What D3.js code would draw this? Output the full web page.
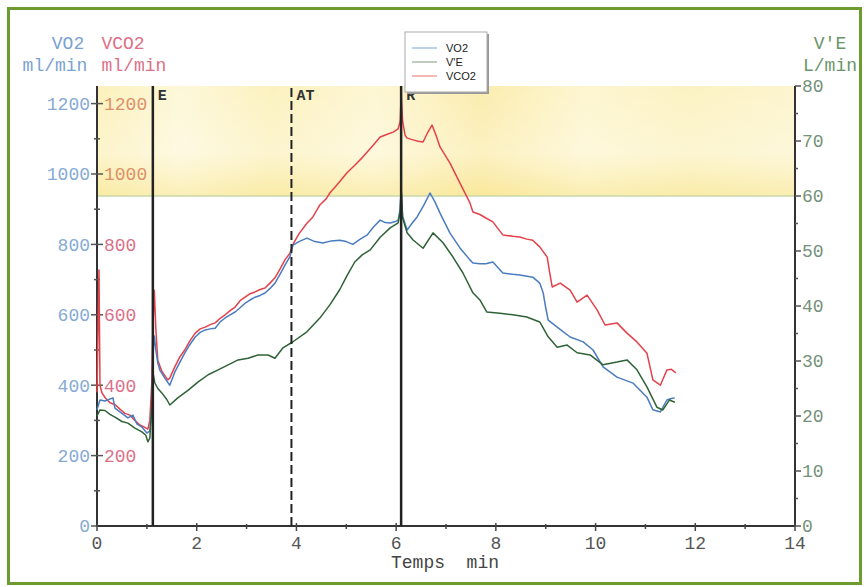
<!DOCTYPE html>
<html>
<head>
<meta charset="utf-8">
<title>VO2 VCO2 V'E</title>
<script src="https://cdn.jsdelivr.net/npm/d3@7"></script>
<style>
body { margin:0; background:#fff; }
svg text { font-family: "Liberation Mono", "DejaVu Sans Mono", monospace; }
</style>
</head>
<body>
<svg width="868" height="587"></svg>
<script>
// temps (min) , valeur
var vco2 = [[0,380],[0.02,560],[0.04,727],[0.06,400],[0.10,378],[0.16,365],[0.26,350],[0.36,345],[0.46,332],[0.56,320],[0.66,315],[0.76,300],[0.86,287],[0.96,280],[1.02,275],[1.06,300],[1.10,410],[1.12,560],[1.15,670],[1.18,560],[1.22,470],[1.30,440],[1.42,415],[1.46,420],[1.56,452],[1.66,480],[1.76,500],[1.86,525],[1.97,548],[2.07,560],[2.17,565],[2.27,572],[2.37,577],[2.47,590],[2.57,600],[2.67,612],[2.77,622],[2.87,640],[2.97,650],[3.07,660],[3.17,665],[3.27,672],[3.37,676],[3.47,690],[3.57,705],[3.67,730],[3.77,756],[3.87,775],[3.93,800],[4.05,830],[4.21,860],[4.33,878],[4.47,912],[4.60,930],[4.67,946],[4.85,975],[5.01,1003],[5.17,1025],[5.33,1048],[5.50,1075],[5.68,1105],[5.81,1112],[5.94,1119],[6.04,1128],[6.08,1150],[6.10,1224],[6.13,1150],[6.18,1110],[6.22,1102],[6.34,1097],[6.44,1093],[6.54,1091],[6.64,1120],[6.72,1139],[6.80,1110],[6.88,1077],[7.08,1031],[7.28,974],[7.48,918],[7.54,892],[7.68,885],[7.80,875],[7.94,864],[8.14,827],[8.34,823],[8.48,821],[8.62,815],[8.74,812],[8.88,793],[9.03,764],[9.08,720],[9.13,679],[9.29,690],[9.49,670],[9.63,636],[9.83,656],[10.03,614],[10.19,571],[10.43,577],[10.63,548],[10.83,523],[11.03,491],[11.15,415],[11.30,400],[11.43,443],[11.52,445],[11.61,435]];

var vo2 = [[0,330],[0.06,358],[0.16,355],[0.32,364],[0.36,335],[0.50,320],[0.62,307],[0.72,315],[0.80,290],[0.90,281],[1.00,264],[1.06,270],[1.10,340],[1.12,480],[1.15,540],[1.18,500],[1.22,463],[1.26,443],[1.36,420],[1.46,400],[1.56,437],[1.66,465],[1.76,491],[1.86,515],[1.97,537],[2.07,550],[2.17,557],[2.27,560],[2.37,562],[2.47,580],[2.57,591],[2.67,600],[2.77,608],[2.87,620],[2.97,633],[3.07,642],[3.17,650],[3.27,655],[3.37,662],[3.47,675],[3.57,690],[3.67,715],[3.77,741],[3.87,765],[3.93,798],[4.05,808],[4.21,818],[4.37,808],[4.53,804],[4.70,810],[4.87,812],[5.00,808],[5.13,800],[5.28,815],[5.42,827],[5.55,850],[5.68,869],[5.78,862],[5.88,861],[6.00,866],[6.04,869],[6.08,900],[6.10,955],[6.13,880],[6.22,841],[6.32,860],[6.42,878],[6.55,910],[6.68,946],[6.78,920],[6.88,889],[7.08,832],[7.28,790],[7.48,756],[7.54,747],[7.68,745],[7.80,745],[7.94,750],[8.14,719],[8.34,715],[8.48,713],[8.74,707],[8.88,690],[8.95,662],[9.00,620],[9.05,585],[9.23,565],[9.49,537],[9.75,523],[9.95,500],[10.15,452],[10.43,423],[10.75,406],[11.03,366],[11.15,330],[11.30,324],[11.43,358],[11.52,362],[11.59,364]];

// V'E en L/min (axe de droite)
var ve = [[0,20],[0.06,21.1],[0.16,21],[0.26,20.3],[0.36,19.8],[0.50,19],[0.62,18.7],[0.76,17.8],[0.90,17.1],[0.98,16.5],[1.02,15.3],[1.06,16],[1.10,22],[1.12,28],[1.16,26],[1.22,25],[1.30,24.2],[1.40,23],[1.46,22],[1.62,23.3],[1.83,24.7],[2.03,26.2],[2.23,27.5],[2.43,28.4],[2.63,29.3],[2.83,30.2],[3.03,30.5],[3.23,31.1],[3.43,31.1],[3.57,30.5],[3.73,32.4],[3.93,33.5],[4.21,35.3],[4.47,37.8],[4.67,40.2],[4.87,43],[5.02,45.6],[5.17,48],[5.32,49.3],[5.48,50.2],[5.68,52.5],[5.88,54.2],[6.04,55.1],[6.08,57],[6.10,61.6],[6.13,56],[6.22,53.3],[6.34,52],[6.54,50.5],[6.74,53.3],[6.94,51.5],[7.14,48.9],[7.34,46],[7.54,42.4],[7.68,41.1],[7.82,38.9],[8.08,38.7],[8.34,38.4],[8.62,38],[8.88,37.1],[9.05,34.4],[9.23,32.5],[9.43,32.9],[9.63,31.5],[9.89,31.1],[10.15,29.3],[10.43,29.8],[10.63,30.2],[10.83,28.4],[11.03,25.3],[11.23,21.6],[11.35,21.1],[11.48,22.9],[11.59,22.5]];

var events = [{t:1.12, label:"E"}, {t:3.9, label:"AT"}, {t:6.1, label:"R"}];
var leftTicks = [0,200,400,600,800,1000,1200];
var rightTicks = [0,10,20,30,40,50,60,70,80];
var xTicks = [0,2,4,6,8,10,12,14];
var legendNames = ["VO2","V'E","VCO2"];

var svg = d3.select("svg");

var x = d3.scaleLinear().domain([0,14]).range([97,795]);
var yL = d3.scaleLinear().domain([0,1250]).range([526,86]);
var yR = d3.scaleLinear().domain([0,80]).range([526,86]);

// cadre vert
svg.append("rect").attr("x",8.5).attr("y",8.5).attr("width",852).attr("height",575)
  .attr("fill","none").attr("stroke","#6c9c30").attr("stroke-width",3);

// zone jaune (V'E > 60)
var defs = svg.append("defs");
var g1 = defs.append("linearGradient").attr("id","band");
[["0%","#fbeeb0"],["12%","#fdf6d2"],["25%","#fbefb4"],["40%","#fdf5cc"],["55%","#fae9a0"],["70%","#fdf4c8"],["85%","#fbf0b8"],["100%","#fcf3c6"]]
  .forEach(function(s){ g1.append("stop").attr("offset",s[0]).attr("stop-color",s[1]); });
var g2 = defs.append("linearGradient").attr("id","bandv").attr("x1",0).attr("x2",0).attr("y1",0).attr("y2",1);
g2.append("stop").attr("offset","0%").attr("stop-color","#ffffff").attr("stop-opacity",0.15);
g2.append("stop").attr("offset","60%").attr("stop-color","#ffffff").attr("stop-opacity",0.35);
g2.append("stop").attr("offset","100%").attr("stop-color","#f8e590").attr("stop-opacity",0.4);

svg.append("rect").attr("x",x(0)).attr("y",yR(80)).attr("width",x(14)-x(0)).attr("height",yR(60)-yR(80))
  .attr("fill","url(#band)");
svg.append("rect").attr("x",x(0)).attr("y",yR(80)).attr("width",x(14)-x(0)).attr("height",yR(60)-yR(80))
  .attr("fill","url(#bandv)");
svg.append("line").attr("x1",x(0)).attr("x2",x(14)).attr("y1",yR(60)).attr("y2",yR(60))
  .attr("stroke","#c9d9a8").attr("stroke-width",1.5);

// titres des axes
var titles = svg.append("g").attr("font-size","18px");
titles.append("text").attr("x",68).attr("y",49).attr("text-anchor","middle").attr("fill","#7aa2d2").text("VO2");
titles.append("text").attr("x",123).attr("y",49).attr("text-anchor","middle").attr("fill","#dc7088").text("VCO2");
titles.append("text").attr("x",55).attr("y",71).attr("text-anchor","middle").attr("fill","#7aa2d2").text("ml/min");
titles.append("text").attr("x",134).attr("y",71).attr("text-anchor","middle").attr("fill","#dc7088").text("ml/min");
titles.append("text").attr("x",830).attr("y",49).attr("text-anchor","middle").attr("fill","#6a946a").text("V'E");
titles.append("text").attr("x",830).attr("y",71).attr("text-anchor","middle").attr("fill","#6a946a").text("L/min");

// axe gauche
var ax = svg.append("g");
ax.append("line").attr("x1",x(0)).attr("x2",x(0)).attr("y1",yL(0)).attr("y2",86)
  .attr("stroke","#333").attr("stroke-width",2);
ax.selectAll(".lt").data(leftTicks).enter().append("line")
  .attr("x1",x(0)-6).attr("x2",x(0)+6).attr("y1",function(d){return yL(d);}).attr("y2",function(d){return yL(d);})
  .attr("stroke","#555").attr("stroke-width",1.5);
ax.selectAll(".lm").data(d3.range(100,1300,200)).enter().append("line")
  .attr("x1",x(0)-3).attr("x2",x(0)+3).attr("y1",function(d){return yL(d);}).attr("y2",function(d){return yL(d);})
  .attr("stroke","#555").attr("stroke-width",1.5);
ax.selectAll(".lb").data(leftTicks).enter().append("text")
  .attr("x",x(0)-7).attr("y",function(d){return yL(d);}).attr("dy","0.35em")
  .attr("text-anchor","end").attr("font-size","18px").attr("fill","#85aad6")
  .text(function(d){return d;});
ax.selectAll(".lc").data(leftTicks.filter(function(d){return d>0;})).enter().append("text")
  .attr("x",x(0)+7).attr("y",function(d){return yL(d);}).attr("dy","0.35em")
  .attr("font-size","18px").attr("fill",function(d){return d>=1000 ? "#dc9068" : "#dc7088";})
  .text(function(d){return d;});

// axe droit
ax.append("line").attr("x1",x(14)).attr("x2",x(14)).attr("y1",yR(0)).attr("y2",yR(80))
  .attr("stroke","#333").attr("stroke-width",2);
ax.selectAll(".rt").data(rightTicks).enter().append("line")
  .attr("x1",x(14)).attr("x2",x(14)+6).attr("y1",function(d){return yR(d);}).attr("y2",function(d){return yR(d);})
  .attr("stroke","#555").attr("stroke-width",1.5);
ax.selectAll(".rm").data(d3.range(5,80,10)).enter().append("line")
  .attr("x1",x(14)).attr("x2",x(14)+3).attr("y1",function(d){return yR(d);}).attr("y2",function(d){return yR(d);})
  .attr("stroke","#555").attr("stroke-width",1.5);
ax.selectAll(".rb").data(rightTicks).enter().append("text")
  .attr("x",x(14)+7).attr("y",function(d){return yR(d);}).attr("dy","0.35em")
  .attr("font-size","18px").attr("fill","#74917a")
  .text(function(d){return d;});

// axe x
ax.append("line").attr("x1",x(0)).attr("x2",x(14)).attr("y1",yL(0)).attr("y2",yL(0))
  .attr("stroke","#333").attr("stroke-width",2);
ax.selectAll(".xt").data(xTicks).enter().append("line")
  .attr("x1",function(d){return x(d);}).attr("x2",function(d){return x(d);})
  .attr("y1",yL(0)-3).attr("y2",yL(0)+5).attr("stroke","#444").attr("stroke-width",1.5);
ax.selectAll(".xm").data(d3.range(1,14,2)).enter().append("line")
  .attr("x1",function(d){return x(d);}).attr("x2",function(d){return x(d);})
  .attr("y1",yL(0)-2).attr("y2",yL(0)+3).attr("stroke","#444").attr("stroke-width",1.5);
ax.selectAll(".xb").data(xTicks).enter().append("text")
  .attr("x",function(d){return x(d);}).attr("y",yL(0)+23).attr("text-anchor","middle")
  .attr("font-size","18px").attr("fill","#555").text(function(d){return d;});
ax.append("text").attr("x",445).attr("y",568).attr("text-anchor","middle")
  .attr("font-size","18px").attr("fill","#444").attr("xml:space","preserve").text("Temps  min");

// courbes
var lineL = d3.line().x(function(d){return x(d[0]);}).y(function(d){return yL(d[1]);});
var lineR = d3.line().x(function(d){return x(d[0]);}).y(function(d){return yR(d[1]);});
var curves = svg.append("g").attr("fill","none").attr("stroke-width",1.5).attr("stroke-linejoin","round");
curves.append("path").datum(vco2).attr("d",lineL).attr("stroke","#e4414a");
curves.append("path").datum(vo2).attr("d",lineL).attr("stroke","#4a7cc0");
curves.append("path").datum(ve).attr("d",lineR).attr("stroke","#2f6236");

// lignes E / AT / R
var ev = svg.append("g");
ev.selectAll("line").data(events).enter().append("line")
  .attr("x1",function(d){return x(d.t);}).attr("x2",function(d){return x(d.t);})
  .attr("y1",yL(0)).attr("y2",86)
  .attr("stroke","#222").attr("stroke-width",function(d){return d.label=="AT" ? 2 : 2.5;})
  .attr("stroke-dasharray",function(d){return d.label=="AT" ? "9,4" : null;});
ev.selectAll("text").data(events).enter().append("text")
  .attr("x",function(d){return x(d.t)+5;}).attr("y",100)
  .attr("font-size","15px").attr("font-weight","bold").attr("fill","#333")
  .text(function(d){return d.label;});

// légende
var lg = svg.append("g").attr("transform","translate(405,32)");
lg.append("rect").attr("x",2).attr("y",2).attr("width",82).attr("height",60).attr("fill","#999");
lg.append("rect").attr("x",0).attr("y",0).attr("width",82).attr("height",60)
  .attr("fill","#fff").attr("stroke","#aaa");
var legColors = ["#8ab4e0","#94ac94","#ee8a80"];
legendNames.forEach(function(n,i){
  lg.append("line").attr("x1",7).attr("x2",32).attr("y1",16+i*14).attr("y2",16+i*14)
    .attr("stroke",legColors[i]).attr("stroke-width",1.2);
  lg.append("text").attr("x",41).attr("y",20+i*14)
    .style("font-family","Liberation Sans, Arial, sans-serif").attr("font-size","11px").attr("fill","#222").text(n);
});
</script>
</body>
</html>
